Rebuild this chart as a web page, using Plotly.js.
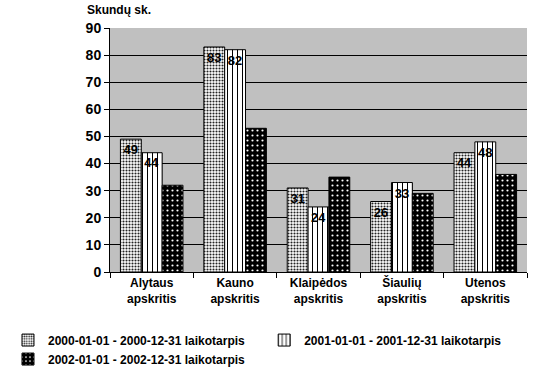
<!DOCTYPE html>
<html><head><meta charset="utf-8">
<script src="https://cdn.plot.ly/plotly-3.0.1.min.js"></script>
<style>body{margin:0;background:#fff}#c{width:547px;height:379px}</style>
</head><body><div id="c"></div>
<script>
const categories = ["Alytaus<br>apskritis","Kauno<br>apskritis","Klaipėdos<br>apskritis","Šiaulių<br>apskritis","Utenos<br>apskritis"];
const seriesNames = ["2000-01-01 - 2000-12-31 laikotarpis","2001-01-01 - 2001-12-31 laikotarpis","2002-01-01 - 2002-12-31 laikotarpis"];
const v2000 = [49, 83, 31, 26, 44];
const v2001 = [44, 82, 24, 33, 48];
const v2002 = [32, 53, 35, 29, 36];
const yTicks = [0,10,20,30,40,50,60,70,80,90];

const fontB = {family:"Liberation Sans, Arial, sans-serif", size:12, color:"#000", weight:"bold"};

const traces = [
 {type:"bar", name:seriesNames[0], legend:"legend", x:categories, y:v2000, text:v2000.map(String),
  textposition:"inside", insidetextanchor:"end", textangle:0,
  textfont:{family:"Liberation Sans, Arial", size:13, color:"#000", weight:"bold"},
  marker:{color:"#fff", line:{color:"#000", width:1}, pattern:{shape:".", fgcolor:"#222", bgcolor:"#fff", size:3, solidity:0.4}}},
 {type:"bar", name:seriesNames[1], legend:"legend2", x:categories, y:v2001, text:v2001.map(String),
  textposition:"inside", insidetextanchor:"end", textangle:0,
  textfont:{family:"Liberation Sans, Arial", size:13, color:"#000", weight:"bold"},
  marker:{color:"#fff", line:{color:"#000", width:1}, pattern:{shape:"|", fgcolor:"#000", bgcolor:"#fff", size:5, solidity:0.2}}},
 {type:"bar", name:seriesNames[2], legend:"legend", x:categories, y:v2002,
  marker:{color:"#000", line:{color:"#000", width:1}, pattern:{shape:".", fgcolor:"#fff", bgcolor:"#000", size:5, solidity:0.15}}}
];

const legCommon = {orientation:"h", xref:"container", yref:"container", xanchor:"left", yanchor:"top",
  y:0.141, font:fontB, itemwidth:30, tracegroupgap:0, traceorder:"normal", bgcolor:"rgba(0,0,0,0)"};

const layout = {
 width:547, height:379,
 margin:{l:110, r:20, t:28, b:107},
 paper_bgcolor:"#fff", plot_bgcolor:"#c0c0c0",
 barmode:"group", bargap:0.25, bargroupgap:0,
 font:fontB,
 showlegend:true,
 legend:Object.assign({}, legCommon, {x:0.0146}),
 legend2:Object.assign({}, legCommon, {x:0.483}),
 xaxis:{type:"category", showline:true, linecolor:"#000", linewidth:1, ticks:"outside", tickson:"boundaries",
   ticklen:5, tickcolor:"#000", tickfont:fontB, showgrid:false, fixedrange:true},
 yaxis:{range:[0,90], tickvals:yTicks, showline:true, linecolor:"#000", linewidth:1, ticks:"outside", ticklen:5,
   tickcolor:"#000", tickfont:{family:"Liberation Sans, Arial", size:14, color:"#000", weight:"bold"},
   showgrid:true, gridcolor:"#000", gridwidth:1, zeroline:false, fixedrange:true},
 annotations:[{text:"Skundų sk.", xref:"paper", yref:"paper", x:-0.06, y:1.035, xanchor:"left", yanchor:"bottom",
   showarrow:false, font:fontB}]
};
Plotly.newPlot("c", traces, layout, {displayModeBar:false, staticPlot:true});
</script></body></html>
